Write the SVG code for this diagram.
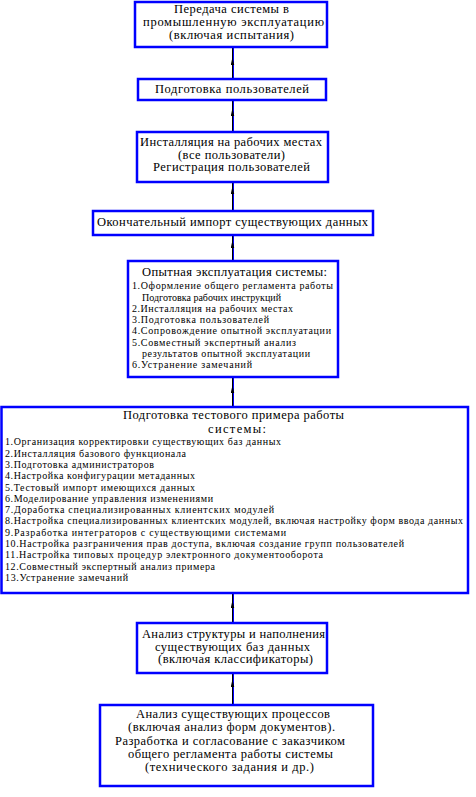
<svg xmlns="http://www.w3.org/2000/svg" width="476" height="797" viewBox="0 0 476 797">
<style>
.box{fill:#fff;stroke:#0000ff;stroke-width:2.5}
.t{font-family:'Liberation Serif','DejaVu Serif','Times New Roman',serif;font-size:12.5px;fill:#000}
.m{font-size:12.5px}
.s{font-size:10px}
.cb{fill:none;stroke:#000;stroke-width:1;marker-mid:url(#ah)}
.cu{fill:none;stroke:#0000ff;stroke-width:1}
</style>
<defs>
<marker id="ah" viewBox="0 0 8 4" refX="8" refY="2" markerWidth="8" markerHeight="4" markerUnits="userSpaceOnUse" orient="auto">
<path d="M0,0.3 L8,2 L0,3.7 Z" fill="#000"/>
</marker>
</defs>
<rect width="476" height="797" fill="#fff"/>
<g id="connectors">
<path class="cu" d="M233.5,79 V47"/>
<path class="cb" d="M232.5,79 V57 V47"/>
<path class="cu" d="M233.5,132 V100"/>
<path class="cb" d="M232.5,132 V108 V100"/>
<path class="cu" d="M233.5,211 V182"/>
<path class="cb" d="M232.5,211 V186 V182"/>
<path class="cu" d="M233.5,261 V235"/>
<path class="cb" d="M232.5,261 V240 V235"/>
<path class="cu" d="M233.5,407 V377"/>
<path class="cb" d="M232.5,407 V385 V377"/>
<path class="cu" d="M233.5,623 V593"/>
<path class="cb" d="M232.5,623 V600 V593"/>
<path class="cu" d="M233.5,705 V673"/>
<path class="cb" d="M232.5,705 V679 V673"/>
</g>
<g id="n1">
<rect class="box" x="135" y="2" width="192" height="45"/>
<text class="t" x="174" y="12.5" textLength="115">Передача системы в</text>
<text class="t" x="143" y="26" textLength="181">промышленную эксплуатацию</text>
<text class="t" x="169" y="39" textLength="125">(включая испытания)</text>
</g>
<g id="n2">
<rect class="box" x="138" y="79" width="188" height="21"/>
<text class="t" x="155" y="93" textLength="154">Подготовка пользователей</text>
</g>
<g id="n3">
<rect class="box" x="137" y="132" width="191" height="50"/>
<text class="t" x="140" y="146" textLength="182">Инсталляция на рабочих местах</text>
<text class="t" x="178" y="158.5" textLength="107">(все пользователи)</text>
<text class="t" x="153" y="171" textLength="157">Регистрация пользователей</text>
</g>
<g id="n4">
<rect class="box" x="93" y="211" width="280" height="24"/>
<text class="t" x="97" y="226" textLength="271">Окончательный импорт существующих данных</text>
</g>
<g id="n5">
<rect class="box" x="128" y="261" width="210" height="116"/>
<text class="t m" x="142" y="276" textLength="185">Опытная эксплуатация системы:</text>
<text class="t s" x="132" y="289.3" textLength="201">1.Оформление общего регламента работы</text>
<text class="t s" x="142" y="300.5" textLength="139">Подготовка рабочих инструкций</text>
<text class="t s" x="132" y="311.5" textLength="161">2.Инсталляция на рабочих местах</text>
<text class="t s" x="132" y="322.7" textLength="137">3.Подготовка пользователей</text>
<text class="t s" x="132" y="334" textLength="199">4.Сопровождение опытной эксплуатации</text>
<text class="t s" x="132" y="345.5" textLength="164">5.Совместный экспертный анализ</text>
<text class="t s" x="142" y="356.7" textLength="168">результатов опытной эксплуатации</text>
<text class="t s" x="132" y="368" textLength="120">6.Устранение замечаний</text>
</g>
<g id="n6">
<rect class="box" x="1.5" y="407" width="466.5" height="186"/>
<text class="t m" x="123" y="419" textLength="221">Подготовка тестового примера работы</text>
<text class="t m" x="208" y="433" textLength="58">системы:</text>
<text class="t s" x="5" y="445.3" textLength="276">1.Организация корректировки существующих баз данных</text>
<text class="t s" x="5" y="456.6" textLength="181">2.Инсталляция базового функционала</text>
<text class="t s" x="5" y="467.9" textLength="149">3.Подготовка администраторов</text>
<text class="t s" x="5" y="479.2" textLength="190">4.Настройка конфигурации метаданных</text>
<text class="t s" x="5" y="490.5" textLength="190">5.Тестовый импорт имеющихся данных</text>
<text class="t s" x="5" y="501.8" textLength="208">6.Моделирование управления изменениями</text>
<text class="t s" x="5" y="513.1" textLength="269">7.Доработка специализированных клиентских модулей</text>
<text class="t s" x="5" y="524.4" textLength="458">8.Настройка специализированных клиентских модулей, включая настройку форм ввода данных</text>
<text class="t s" x="5" y="535.7" textLength="281">9.Разработка интеграторов с существующими системами</text>
<text class="t s" x="5" y="547" textLength="399">10.Настройка разграничения прав доступа, включая создание групп пользователей</text>
<text class="t s" x="5" y="558.3" textLength="318">11.Настройка типовых процедур электронного документооборота</text>
<text class="t s" x="5" y="569.6" textLength="210">12.Совместный экспертный анализ примера</text>
<text class="t s" x="5" y="580.9" textLength="123">13.Устранение замечаний</text>
</g>
<g id="n7">
<rect class="box" x="137" y="623" width="190" height="50"/>
<text class="t" x="142" y="638" textLength="183">Анализ структуры и наполнения</text>
<text class="t" x="155" y="650.5" textLength="155">существующих баз данных</text>
<text class="t" x="158" y="663" textLength="155">(включая классификаторы)</text>
</g>
<g id="n8">
<rect class="box" x="100" y="705" width="273" height="81"/>
<text class="t" x="136" y="718" textLength="194">Анализ существующих процессов</text>
<text class="t" x="128" y="731" textLength="207">(включая анализ форм документов).</text>
<text class="t" x="115" y="744.5" textLength="230">Разработка и согласование с заказчиком</text>
<text class="t" x="128" y="758" textLength="205">общего регламента работы системы</text>
<text class="t" x="145" y="771" textLength="169">(технического задания и др.)</text>
</g>
</svg>
